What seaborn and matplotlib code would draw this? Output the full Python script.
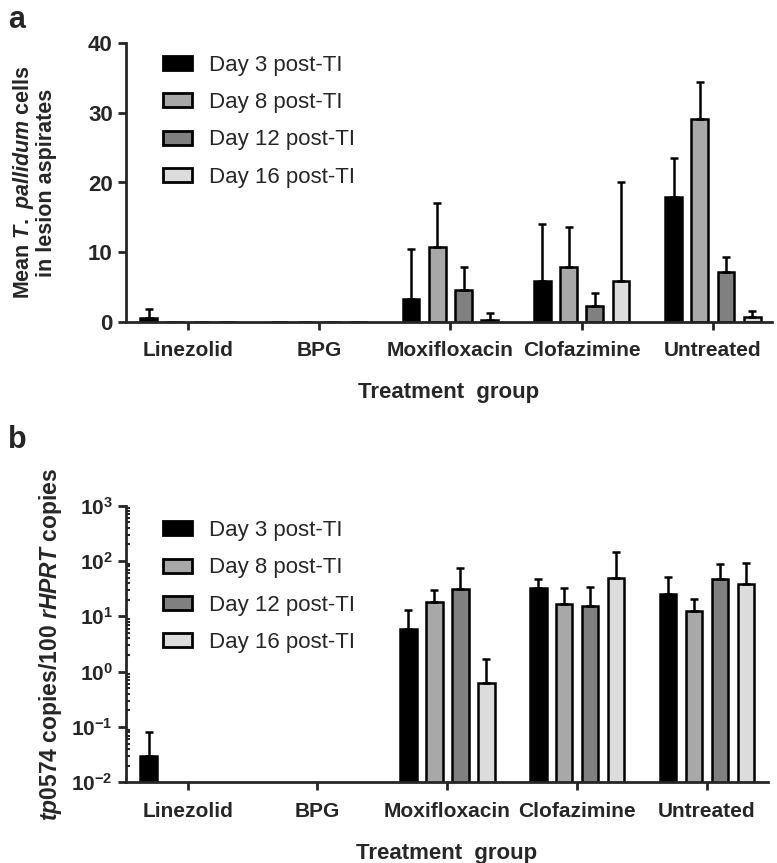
import numpy as np
import pandas as pd
import matplotlib
matplotlib.use("Agg")
import matplotlib.pyplot as plt
import seaborn as sns

# ---------------- data ----------------
groups = ["Linezolid", "BPG", "Moxifloxacin", "Clofazimine", "Untreated"]
days = ["Day 3 post-TI", "Day 8 post-TI", "Day 12 post-TI", "Day 16 post-TI"]

# panel a: mean T. pallidum cells (rows = groups, cols = days)
cells_mean = [
    [0.5, 0.0, 0.0, 0.0],
    [0.0, 0.0, 0.0, 0.0],
    [3.3, 10.8, 4.5, 0.3],
    [5.9, 7.9, 2.3, 5.9],
    [17.9, 29.1, 7.1, 0.7],
]
cells_sd = [
    [1.3, 0.0, 0.0, 0.0],
    [0.0, 0.0, 0.0, 0.0],
    [7.2, 6.2, 3.3, 1.0],
    [8.2, 5.7, 1.8, 14.2],
    [5.6, 5.3, 2.2, 0.8],
]

# panel b: tp0574 copies / 100 rHPRT copies (NaN = not detected)
nan = np.nan
qpcr_mean = [
    [0.03, nan, nan, nan],
    [nan, nan, nan, nan],
    [5.8, 18.0, 31.0, 0.62],
    [32.0, 17.0, 15.4, 50.0],
    [25.7, 12.7, 47.5, 38.5],
]
qpcr_sd = [
    [0.05, nan, nan, nan],
    [nan, nan, nan, nan],
    [7.3, 12.0, 43.0, 1.05],
    [15.0, 15.0, 19.0, 98.0],
    [25.0, 8.3, 40.0, 54.5],
]

colors = ["#000000", "#a8a8a8", "#808080", "#dcdcdc"]

# ---------------- style ----------------
sns.set_style("ticks")
plt.rcParams["font.family"] = ["Liberation Sans", "DejaVu Sans"]
plt.rcParams["font.weight"] = "bold"
plt.rcParams["mathtext.fontset"] = "custom"
plt.rcParams["mathtext.rm"] = "Liberation Sans:bold"
plt.rcParams["mathtext.it"] = "Liberation Sans:italic:bold"
plt.rcParams["mathtext.bf"] = "Liberation Sans:bold"


def to_long(mean, sd):
    rows = []
    for gi, g in enumerate(groups):
        for di, d in enumerate(days):
            m = mean[gi][di]
            if not np.isnan(m):
                rows.append({"group": g, "day": d, "value": m, "sd": sd[gi][di]})
    return pd.DataFrame(rows)


def draw(ax, mean, sd, ytick_size, leg_y):
    df = to_long(mean, sd)
    sns.barplot(data=df, x="group", y="value", hue="day", order=groups,
                hue_order=days, palette=colors, errorbar=None,
                edgecolor="black", linewidth=1.8, width=0.8, gap=0.36,
                ax=ax, saturation=1)
    # upper error bars
    for di, d in enumerate(days):
        cont = ax.containers[di]
        sub = df[df["day"] == d].set_index("group")
        present = [g for g in groups if g in sub.index]
        for patch, g in zip(cont.patches, present):
            m = sub.loc[g, "value"]
            s = sub.loc[g, "sd"]
            if s > 0:
                xc = patch.get_x() + patch.get_width() / 2
                ax.errorbar([xc], [m], yerr=[[0], [s]], fmt="none",
                            ecolor="black", elinewidth=1.8, capsize=3,
                            capthick=1.8, zorder=1)
    for sp in ["top", "right"]:
        ax.spines[sp].set_visible(False)
    for sp in ["left", "bottom"]:
        ax.spines[sp].set_linewidth(2)
    ax.tick_params(axis="both", which="major", width=2, length=6)
    ax.tick_params(axis="y", which="major", labelsize=ytick_size)
    ax.tick_params(axis="x", labelsize=15, pad=8)
    for t in ax.get_xticklabels() + ax.get_yticklabels():
        t.set_fontweight("bold")
    leg = ax.legend(loc="upper left", bbox_to_anchor=(0.026, leg_y),
                    frameon=False, prop={"size": 16, "weight": "normal"},
                    handlelength=1.3, handleheight=0.6, handletextpad=0.8,
                    labelspacing=0.73)
    for h in leg.legend_handles:
        h.set_edgecolor("black")
        h.set_linewidth(2)
    ax.set_xlabel("Treatment  group", fontsize=16, fontweight="bold",
                  labelpad=16)


fig = plt.figure(figsize=(7.77, 8.63), dpi=100)
ax1 = fig.add_axes([126 / 777, 1 - 321.7 / 863, (772 - 126) / 777, 278.4 / 863])
ax2 = fig.add_axes([126 / 777, 1 - 782.3 / 863, (768 - 126) / 777, 276.6 / 863])

# panel a
draw(ax1, cells_mean, cells_sd, 16, 1.03)
ax1.set_ylim(0, 40)
ax1.set_yticks([0, 10, 20, 30, 40])
ax1.set_xlim(-0.472, 4.45)
ax1.set_ylabel("Mean $\\mathit{T.\\ pallidum}$ cells\nin lesion aspirates",
               fontsize=15.5, fontweight="bold", labelpad=22, linespacing=1.0)

# panel b
ax2.set_yscale("log")
draw(ax2, qpcr_mean, qpcr_sd, 15, 1.02)
ax2.set_yscale("log")
ax2.set_ylim(1e-2, 1e3)
ax2.set_yticks([1e-2, 1e-1, 1e0, 1e1, 1e2, 1e3])
ax2.yaxis.set_minor_locator(matplotlib.ticker.LogLocator(base=10, subs=np.arange(2, 10)))
ax2.tick_params(axis="y", which="minor", direction="in", length=3, width=1.5)
ax2.set_xlim(-0.475, 4.47)
ax2.set_ylabel("$\\mathit{tp0574}$ copies/100 $\\mathit{rHPRT}$ copies",
               fontsize=16.5, fontweight="bold", labelpad=5)

fig.text(8 / 777, 1 - 5 / 863, "a", fontsize=22, fontweight="bold", va="top")
fig.text(8 / 777, 1 - 425 / 863, "b", fontsize=22, fontweight="bold", va="top")

fig.savefig("out.png", dpi=100)
